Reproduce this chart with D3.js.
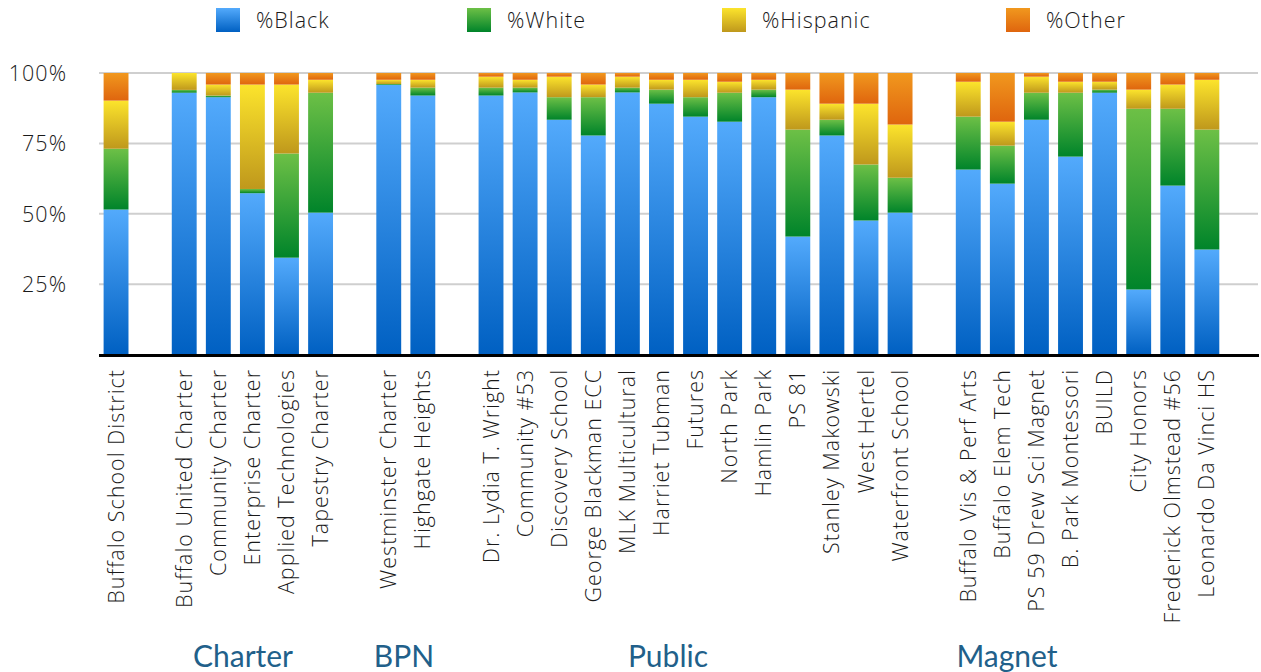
<!DOCTYPE html>
<html>
<head>
<meta charset="utf-8">
<script src="https://cdn.jsdelivr.net/npm/d3@7"></script>
<style>
  html, body { margin: 0; padding: 0; background: #fff; }
  svg { display: block; }
</style>
</head>
<body>
<svg id="chart" width="1261" height="672"></svg>
<script>
// ---------------- DATA ----------------
const schools = [
  "Buffalo School District",
  "Buffalo United Charter", "Community Charter", "Enterprise Charter", "Applied Technologies", "Tapestry Charter",
  "Westminster Charter", "Highgate Heights",
  "Dr. Lydia T. Wright", "Community #53", "Discovery School", "George Blackman ECC", "MLK Multicultural",
  "Harriet Tubman", "Futures", "North Park", "Hamlin Park", "PS 81", "Stanley Makowski", "West Hertel", "Waterfront School",
  "Buffalo Vis & Perf Arts", "Buffalo Elem Tech", "PS 59 Drew Sci Magnet", "B. Park Montessori", "BUILD",
  "City Honors", "Frederick Olmstead #56", "Leonardo Da Vinci HS"
];
const groups = [
  "District",
  "Charter", "Charter", "Charter", "Charter", "Charter",
  "BPN", "BPN",
  "Public", "Public", "Public", "Public", "Public", "Public", "Public", "Public", "Public", "Public", "Public", "Public", "Public",
  "Magnet", "Magnet", "Magnet", "Magnet", "Magnet", "Magnet", "Magnet", "Magnet"
];
const pctBlack    = [51.5, 93.0, 91.4, 57.3, 34.4, 50.4, 95.8, 92.0, 92.0, 93.1, 83.4, 77.8, 93.1, 89.1, 84.5, 82.7, 91.4, 41.9, 77.8, 47.6, 50.4, 65.7, 60.7, 83.4, 70.3, 93.0, 23.1, 60.0, 37.3];
const pctWhite    = [21.6,  1.0,  0.6,  1.5, 37.0, 42.6,  0.3,  2.8,  2.8,  1.7,  8.0, 13.6,  1.7,  5.0,  6.9, 10.3,  2.7, 38.0,  5.6, 19.9, 12.4, 18.8, 13.5,  9.6, 22.7,  1.1, 64.2, 27.3, 42.6];
const pctHispanic = [17.1,  6.0,  3.9, 37.1, 24.5,  4.6,  1.5,  2.8,  3.9,  2.8,  7.3,  4.5,  3.9,  3.5,  6.2,  3.9,  3.5, 14.2,  5.7, 21.6, 18.9, 12.4,  8.5,  5.7,  3.9,  2.8,  6.8,  8.6, 17.7];
const pctOther    = [ 9.8,  0.0,  4.1,  4.1,  4.1,  2.4,  2.4,  2.4,  1.3,  2.4,  1.3,  4.1,  1.3,  2.4,  2.4,  3.1,  2.4,  5.9, 10.9, 10.9, 18.3,  3.1, 17.3,  1.3,  3.1,  3.1,  5.9,  4.1,  2.4];
const seriesNames = ["%Black", "%White", "%Hispanic", "%Other"];
const yTicks = [25, 50, 75, 100];
const groupLabels = ["Charter", "BPN", "Public", "Magnet"];

// ---------------- LAYOUT / STYLE ----------------
const seriesKeys = ["black", "white", "hispanic", "other"];
const gradStops = {
  black:    ["#53aafc", "#0060c2"],
  white:    ["#6dc046", "#00842a"],
  hispanic: ["#fce42c", "#bf981c"],
  other:    ["#f1981e", "#df650e"]
};
const groupLabelX = { Charter: 243, BPN: 404, Public: 668, Magnet: 1007 };
const legendX = [216, 467, 722, 1006];
const bodyFont = "'Open Sans', 'Noto Sans', sans-serif";
const bodySize = 21.5;
const bodySpacing = 1;

const svg = d3.select("#chart");
const defs = svg.append("defs");
seriesKeys.forEach(k => {
  const g = defs.append("linearGradient").attr("id", "grad-" + k)
    .attr("x1", 0).attr("y1", 0).attr("x2", 0).attr("y2", 1);
  g.append("stop").attr("offset", "0%").attr("stop-color", gradStops[k][0]);
  g.append("stop").attr("offset", "100%").attr("stop-color", gradStops[k][1]);
});

// build slot domain with empty gaps between groups (+ trailing gap)
const slots = [];
let gapN = 0;
schools.forEach((s, i) => {
  if (i > 0 && groups[i] !== groups[i - 1]) slots.push("__gap" + (gapN++));
  slots.push(s);
});
slots.push("__gap" + (gapN++));

const rows = schools.map((s, i) => ({
  name: s, group: groups[i],
  black: pctBlack[i], white: pctWhite[i], hispanic: pctHispanic[i], other: pctOther[i]
}));

const x = d3.scaleBand().domain(slots).range([99, 1258]).paddingInner(0.27).paddingOuter(0.135);
const y = d3.scaleLinear().domain([0, 100]).range([354.5, 73]);

// gridlines
svg.append("g").selectAll("line").data(yTicks).join("line")
  .attr("x1", 99).attr("x2", 1258)
  .attr("y1", d => y(d)).attr("y2", d => y(d))
  .attr("stroke", "#cfcfcf").attr("stroke-width", 2);

// y axis labels
const yAxis = d3.axisLeft(y).tickValues(yTicks).tickSize(0).tickPadding(0).tickFormat(d => d + "%");
const yg = svg.append("g").attr("transform", "translate(67,0)").call(yAxis);
yg.select(".domain").remove();
yg.selectAll("text")
  .attr("font-family", bodyFont).attr("font-weight", 300)
  .attr("font-size", bodySize).attr("letter-spacing", bodySpacing)
  .attr("fill", "#1a1a1a").attr("dy", "0.35em");

// stacked bars
const stack = d3.stack().keys(seriesKeys);
const stacked = stack(rows);
svg.append("g").selectAll("g").data(stacked).join("g")
  .attr("fill", d => "url(#grad-" + d.key + ")")
  .selectAll("rect").data(d => d.filter(p => p[1] - p[0] > 0)).join("rect")
  .attr("x", d => x(d.data.name))
  .attr("width", x.bandwidth())
  .attr("y", d => y(d[1]))
  .attr("height", d => y(d[0]) - y(d[1]));

// baseline
svg.append("line").attr("x1", 99).attr("x2", 1259)
  .attr("y1", 355.5).attr("y2", 355.5)
  .attr("stroke", "#000").attr("stroke-width", 3);

// x axis labels (rotated)
const xAxis = d3.axisBottom(x).tickValues(schools).tickSize(0).tickPadding(0);
const xg = svg.append("g").attr("transform", "translate(0,369)").call(xAxis);
xg.select(".domain").remove();
xg.selectAll("text")
  .attr("font-family", bodyFont).attr("font-weight", 300)
  .attr("font-size", bodySize).attr("letter-spacing", bodySpacing)
  .attr("fill", "#1a1a1a")
  .attr("transform", "rotate(-90)")
  .attr("text-anchor", "end")
  .attr("x", 0).attr("y", 0).attr("dy", "0.35em");

// group labels
svg.append("g").selectAll("text").data(groupLabels).join("text")
  .attr("x", d => groupLabelX[d]).attr("y", 667)
  .attr("text-anchor", "middle")
  .attr("font-family", "Lato, 'Open Sans', sans-serif")
  .attr("font-size", 30).attr("fill", "#21608a")
  .text(d => d);

// legend
const leg = svg.append("g").selectAll("g").data(seriesNames).join("g")
  .attr("transform", (d, i) => "translate(" + legendX[i] + ",8)");
leg.append("rect").attr("width", 24).attr("height", 24)
  .attr("fill", (d, i) => "url(#grad-" + seriesKeys[i] + ")");
leg.append("text").attr("x", 40).attr("y", 12).attr("dy", "0.35em")
  .attr("font-family", bodyFont).attr("font-weight", 300)
  .attr("font-size", bodySize).attr("letter-spacing", bodySpacing)
  .attr("fill", "#1a1a1a")
  .text(d => d);
</script>
</body>
</html>
